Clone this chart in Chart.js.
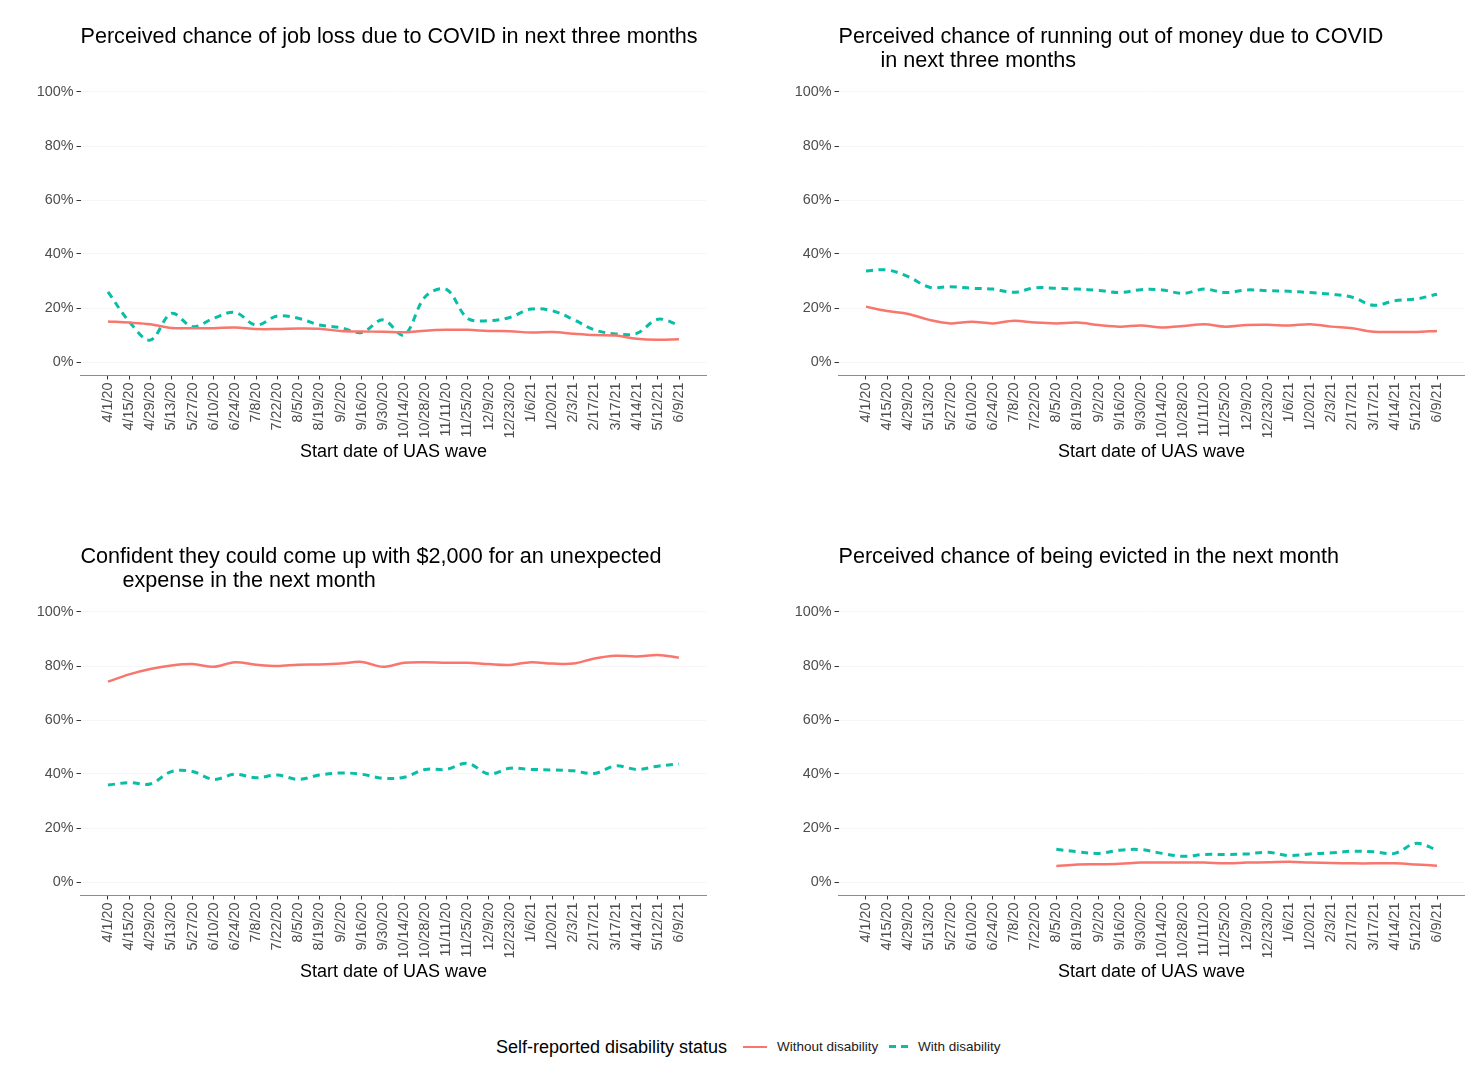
<!DOCTYPE html>
<html>
<head>
<meta charset="utf-8">
<title>UAS disability panels</title>
<script src="https://cdn.jsdelivr.net/npm/chart.js@4.4.1/dist/chart.umd.min.js"></script>
<style>
  html, body { margin: 0; padding: 0; background: #ffffff; overflow: hidden; }
  body { width: 1473px; height: 1070px; position: relative; font-family: "Liberation Sans", Arial, sans-serif; }
  canvas { position: absolute; }
  .lg { position: absolute; white-space: nowrap; line-height: 1; }
</style>
</head>
<body>
<canvas id="c1" width="736" height="500" style="left:0px;top:0px"></canvas>
<canvas id="c2" width="736" height="500" style="left:758px;top:0px"></canvas>
<canvas id="c3" width="736" height="500" style="left:0px;top:520px"></canvas>
<canvas id="c4" width="736" height="500" style="left:758px;top:520px"></canvas>

<div class="lg" style="left:496px;top:1038px;font-size:18px;color:#000">Self-reported disability status</div>
<div class="lg" style="left:743px;top:1046px;width:24px;height:0;border-top:2.5px solid #F8766D"></div>
<div class="lg" style="left:777px;top:1040px;font-size:13.5px;color:#1a1a1a">Without disability</div>
<div class="lg" style="left:889px;top:1045px;width:7px;height:3px;background:#08BEA6"></div>
<div class="lg" style="left:901px;top:1045px;width:7px;height:3px;background:#08BEA6"></div>
<div class="lg" style="left:918px;top:1040px;font-size:13.5px;color:#1a1a1a">With disability</div>

<script>
// Start dates of the UAS survey waves
const waveDates = ['4/1/20','4/15/20','4/29/20','5/13/20','5/27/20','6/10/20','6/24/20','7/8/20','7/22/20','8/5/20',
  '8/19/20','9/2/20','9/16/20','9/30/20','10/14/20','10/28/20','11/11/20','11/25/20','12/9/20','12/23/20',
  '1/6/21','1/20/21','2/3/21','2/17/21','3/17/21','4/14/21','5/12/21','6/9/21'];

const yTicks = [0, 20, 40, 60, 80, 100];

// Perceived chance of job loss (%)
const jobLossWithout = [15.0,14.6,14.0,12.6,12.5,12.5,12.8,12.2,12.2,12.4,12.3,11.5,11.3,11.2,11.0,11.6,11.9,11.9,11.5,11.4,10.9,11.1,10.5,10.0,9.8,8.6,8.2,8.4];
const jobLossWith    = [26.0,15.0,8.1,18.0,13.1,16.2,18.4,13.7,17.0,16.2,13.7,12.7,10.9,15.6,10.0,24.2,26.9,16.2,15.3,16.5,19.6,19.0,15.8,11.9,10.4,10.6,15.8,13.7];

// Perceived chance of running out of money (%)
const moneyWithout = [20.5,18.9,17.8,15.6,14.3,14.9,14.3,15.3,14.6,14.3,14.6,13.7,13.1,13.5,12.8,13.3,14.0,13.1,13.7,13.8,13.5,14.0,13.1,12.5,11.2,11.1,11.1,11.5];
const moneyWith    = [33.7,34.1,31.6,27.7,27.9,27.3,27.0,25.8,27.5,27.3,27.0,26.5,25.7,26.8,26.7,25.4,27.0,25.7,26.7,26.4,26.2,25.7,25.1,24.0,21.0,22.7,23.3,25.1];

// Confident they could come up with $2,000 (%)
const expenseWithout = [74.2,76.9,78.9,80.2,80.7,79.7,81.4,80.5,80.0,80.5,80.6,80.9,81.5,79.7,81.2,81.4,81.2,81.2,80.7,80.4,81.4,80.9,80.9,82.8,83.8,83.5,84.1,83.1];
const expenseWith    = [35.9,36.8,36.3,40.9,40.9,38.0,39.9,38.6,39.6,38.0,39.6,40.4,39.9,38.4,38.8,41.7,41.7,44.0,40.0,42.1,41.7,41.5,41.2,40.2,43.0,41.7,42.9,43.7];

// Perceived chance of eviction (%), asked from the 8/5/20 wave on
const evictWithout = [null,null,null,null,null,null,null,null,null,5.9,6.5,6.6,6.8,7.2,7.2,7.2,7.2,6.9,7.2,7.3,7.5,7.2,7.0,6.9,6.9,6.9,6.5,6.0];
const evictWith    = [null,null,null,null,null,null,null,null,null,12.1,11.2,10.6,11.8,12.0,10.6,9.5,10.2,10.2,10.4,11.0,9.8,10.4,10.8,11.4,11.2,10.6,14.3,11.9];

const FONT = '"Liberation Sans", Arial, sans-serif';
const RED = '#F8766D';
const TEAL = '#08BEA6';

function toPoints(values) {
  return values.map((v, i) => ({ x: i, y: v }));
}

function makePanel(id, titleLines, without, withDis) {
  const twoLines = titleLines.length > 1;
  new Chart(document.getElementById(id), {
    type: 'line',
    data: {
      datasets: [
        {
          label: 'Without disability',
          data: toPoints(without),
          borderColor: RED,
          borderWidth: 2.5,
          tension: 0.35,
          pointRadius: 0,
          fill: false
        },
        {
          label: 'With disability',
          data: toPoints(withDis),
          borderColor: TEAL,
          borderWidth: 3,
          borderDash: [7, 5.5],
          tension: 0.35,
          pointRadius: 0,
          fill: false
        }
      ]
    },
    options: {
      responsive: false,
      animation: false,
      layout: { padding: { left: 36.5, right: 29.5, top: 0, bottom: 37.2 } },
      plugins: {
        legend: { display: false },
        tooltip: { enabled: false },
        title: {
          display: true,
          text: titleLines,
          align: 'start',
          fullSize: false,
          color: '#000000',
          font: { family: FONT, size: 21.6, weight: 'normal', lineHeight: 24 / 21.6 },
          padding: { top: 25, bottom: twoLines ? 5.5 : 29.5 }
        }
      },
      scales: {
        x: {
          type: 'linear',
          min: -1.3,
          max: 28.3,
          afterBuildTicks: (scale) => { scale.ticks = waveDates.map((_, i) => ({ value: i })); },
          afterFit: (scale) => { scale.height = 87.3; },
          ticks: {
            autoSkip: false,
            minRotation: 90,
            maxRotation: 90,
            padding: 3,
            color: '#4d4d4d',
            font: { family: FONT, size: 14.4 },
            callback: (v) => waveDates[Math.round(v)]
          },
          grid: { drawOnChartArea: false, tickLength: 4, tickColor: '#333333', tickWidth: 1 },
          border: { display: true, color: '#8c8c8c', width: 1 },
          title: {
            display: true,
            text: 'Start date of UAS wave',
            color: '#000000',
            font: { family: FONT, size: 18 },
            padding: 0
          }
        },
        y: {
          min: -5,
          max: 105,
          afterBuildTicks: (scale) => { scale.ticks = yTicks.map(v => ({ value: v })); },
          afterFit: (scale) => { scale.width = 44; },
          ticks: {
            padding: 3,
            color: '#4d4d4d',
            font: { family: FONT, size: 14.4 },
            callback: (v) => v + '%'
          },
          grid: { color: '#f6f6f6', tickLength: 4, tickColor: '#333333', tickWidth: 1 },
          border: { display: false }
        }
      }
    }
  });
}

makePanel('c1', ['Perceived chance of job loss due to COVID in next three months'], jobLossWithout, jobLossWith);
makePanel('c2', ['Perceived chance of running out of money due to COVID', '       in next three months'], moneyWithout, moneyWith);
makePanel('c3', ['Confident they could come up with $2,000 for an unexpected', '       expense in the next month'], expenseWithout, expenseWith);
makePanel('c4', ['Perceived chance of being evicted in the next month'], evictWithout, evictWith);
</script>
</body>
</html>
